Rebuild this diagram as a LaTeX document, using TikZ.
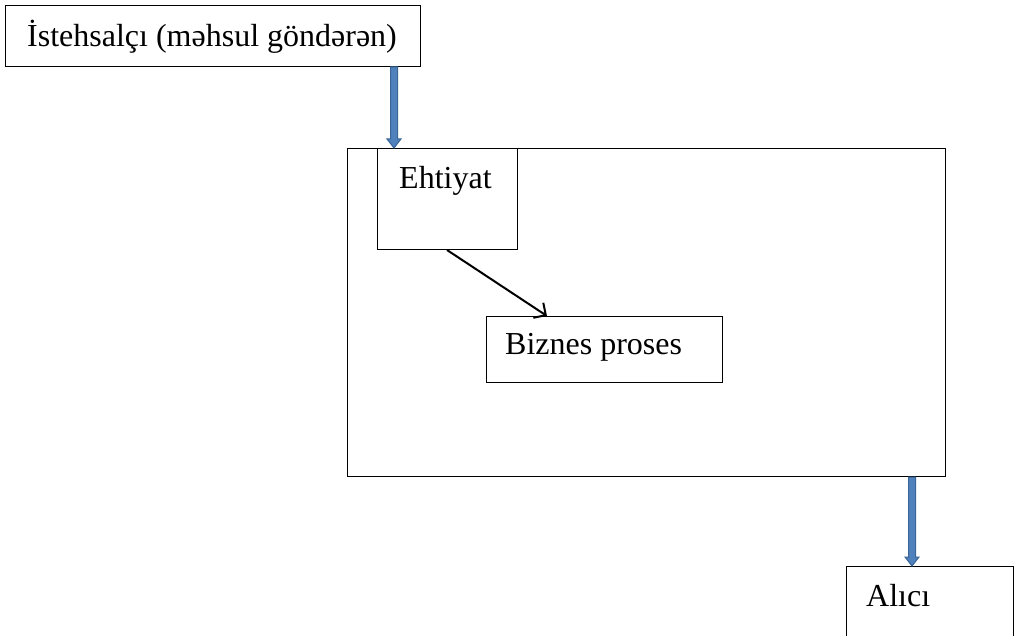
\documentclass[tikz,border=0pt]{standalone}
\usepackage{fontspec}
\setmainfont{Liberation Serif}
\usetikzlibrary{arrows.meta,calc}
\definecolor{arrowfill}{HTML}{4F81BD}
\definecolor{arrowedge}{HTML}{3A6596}
\tikzset{
  box/.style={draw=black, line width=1pt, rectangle, inner sep=0pt, anchor=north west},
  lbl/.style={font=\fontsize{32}{36}\selectfont, anchor=base west, inner sep=0pt},
  flow/.style={draw=black, line width=2pt, -{Straight Barb[length=9pt,width=18pt,line width=2pt]}},
  blockarrow/.style={fill=arrowfill, draw=arrowedge, line width=1pt, line join=miter}
}
% flat block arrow between two named points, pointing downwards
\newcommand{\downblock}[2]{%
  \path[blockarrow] let \p1=(#1), \p2=(#2) in
    (\x1-3.5pt,\y1) -- (\x1+3.5pt,\y1) -- (\x1+3.5pt,\y2+9pt) -- (\x1+7pt,\y2+9pt)
    -- (\x1,\y2) -- (\x1-7pt,\y2+9pt) -- (\x1-3.5pt,\y2+9pt) -- cycle;}
\begin{document}
\begin{tikzpicture}[x=1pt,y=-1pt]
  \useasboundingbox (0,0) rectangle (1021,636);
  \clip (0,0) rectangle (1021,636);
  \fill[white] (0,0) rectangle (1021,636);

  % boxes
  \node[box, minimum width=415pt, minimum height=61pt] (maker) at (5,5) {};
  \node[box, minimum width=598pt, minimum height=328pt] (store) at (347,148) {};
  \node[box, minimum width=140pt, minimum height=101pt] (stock) at (377,148) {};
  \node[box, minimum width=236pt, minimum height=66pt] (biz) at (486,316) {};
  \node[box, minimum width=167pt, minimum height=80pt] (buyer) at (846,566) {};

  % labels
  \node[lbl] (makerT) at (27,47) {İstehsalçı (məhsul göndərən)};
  \node[lbl] (stockT) at (399,189) {Ehtiyat};
  \node[lbl] (bizT) at (505,355) {Biznes proses};
  \node[lbl] (buyerT) at (866,606) {Alıcı};

  % connectors
  \coordinate (a1) at (394,0 |- maker.south);
  \coordinate (a2) at (394,0 |- store.north);
  \downblock{a1}{a2}
  \coordinate (b1) at (912,0 |- store.south);
  \coordinate (b2) at (912,0 |- buyer.north);
  \downblock{b1}{b2}

  \coordinate (c1) at (447,0 |- stock.south);
  \coordinate (c2) at (547,0 |- biz.north);
  \draw[flow] (c1) -- (c2);
\end{tikzpicture}
\end{document}
